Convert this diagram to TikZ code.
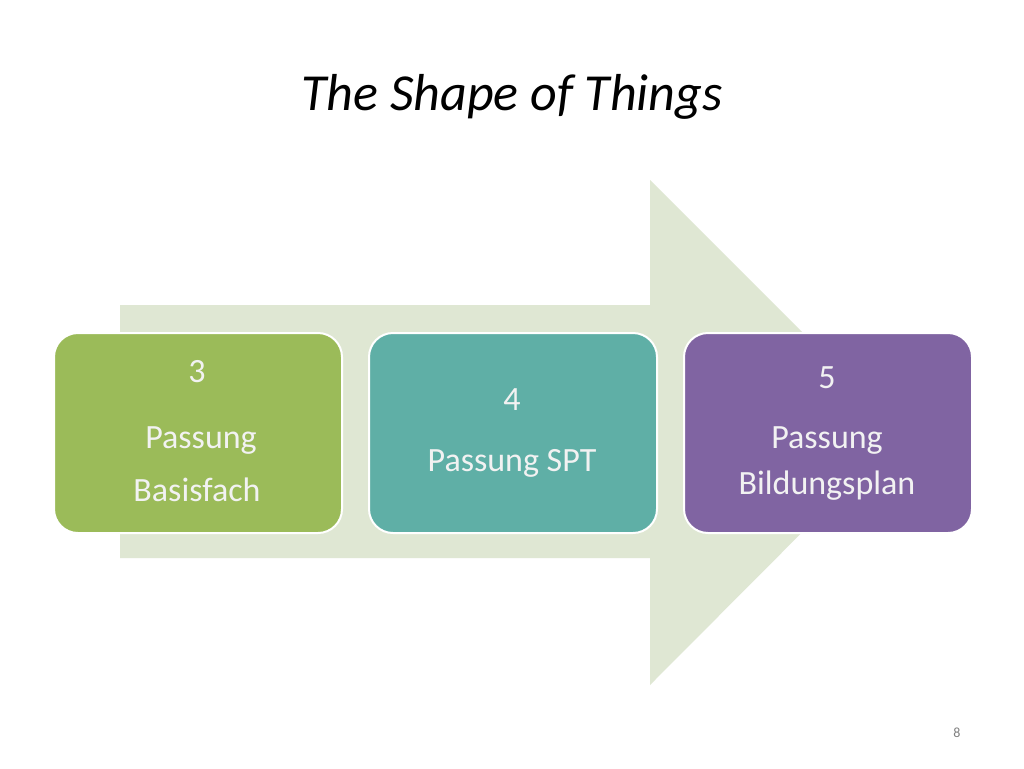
\documentclass[tikz,border=0pt]{standalone}
\usepackage{fontspec}
\setmainfont{Carlito}
\definecolor{arr}{HTML}{DFE7D3}
\definecolor{cg}{HTML}{9BBB59}
\definecolor{ct}{HTML}{5FAFA6}
\definecolor{cp}{HTML}{8064A2}
\begin{document}
\begin{tikzpicture}[x=1pt,y=-1pt,
  box/.style={draw=white,line width=2pt,rounded corners=24pt,minimum width=288pt,minimum height=200pt,anchor=north west},
  txt/.style={font=\fontsize{34}{40}\selectfont,text=white!95!black,align=center}]
\useasboundingbox[fill=white] (0,0) rectangle (1024,768);
\node (title) at (512,97) {\fontsize{52}{60}\selectfont\itshape The Shape of Things};
\fill[arr] (120,305) -- (650,305) -- (650,180) -- (902,432) -- (650,685) -- (650,558) -- (120,558) -- cycle;
\node[box,fill=cg] (b1) at (53,332) {};
\node[box,fill=ct] (b2) at (368,332) {};
\node[box,fill=cp] (b3) at (683,332) {};
\node[txt] (t1a) at (197,372) {3};
\node[txt] (t1b) at (201,441) {Passung};
\node[txt] (t1c) at (197,490) {Basisfach};
\node[txt] (t2a) at (512,400) {4};
\node[txt] (t2b) at (512,463) {Passung SPT};
\node[txt] (t3a) at (827,378) {5};
\node[txt] (t3b) at (827,441) {Passung};
\node[txt] (t3c) at (827,486) {Bildungsplan};
\node[text=gray,font=\fontsize{14}{16}\selectfont] (pg) at (957,733) {8};
\end{tikzpicture}
\end{document}
